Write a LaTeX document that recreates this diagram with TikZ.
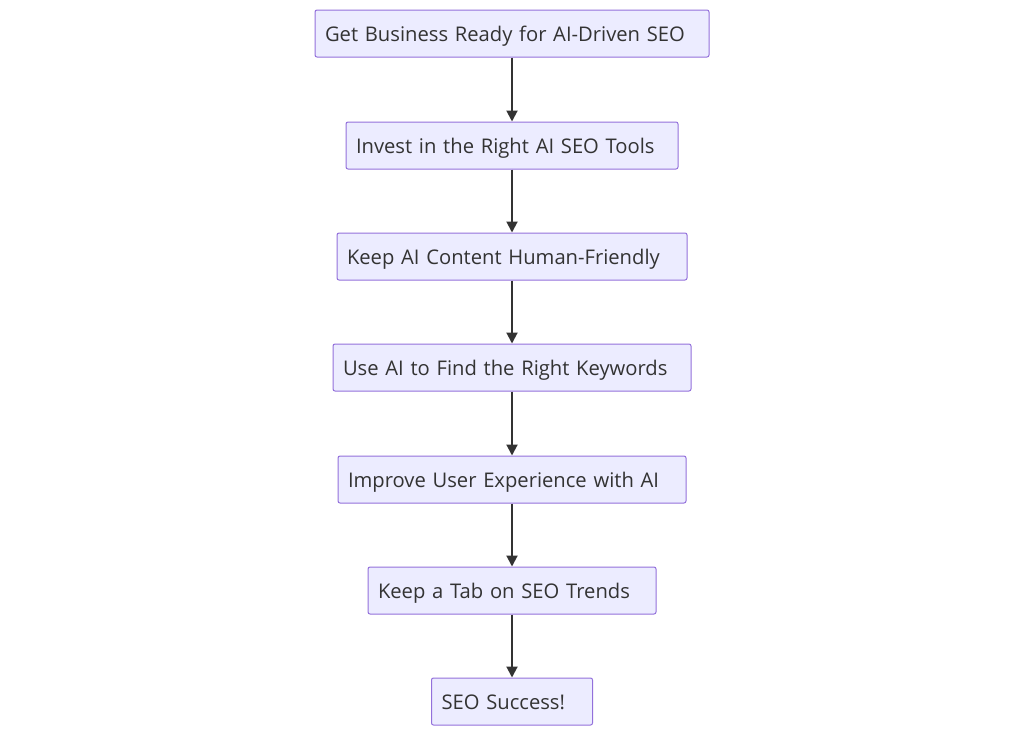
\documentclass[tikz,border=0pt]{standalone}
\usepackage{fontspec}
\setmainfont{Open Sans}
\usetikzlibrary{arrows.meta}
\definecolor{boxfill}{HTML}{ECECFF}
\definecolor{boxline}{HTML}{9370DB}
\definecolor{txt}{HTML}{333333}
\begin{document}
\begin{tikzpicture}[x=1pt,y=-1pt,
  box/.style={draw=boxline,fill=boxfill,line width=1pt,rounded corners=2pt,
    minimum height=47pt,inner xsep=10pt,inner ysep=0pt,text=txt,
    text height=18pt,text depth=2pt,
    font=\fontsize{20.2}{22}\selectfont,align=left,anchor=center},
  arr/.style={draw=txt,line width=2pt,-{Triangle[length=11pt,width=11pt]}}]
\useasboundingbox (0,0) rectangle (1024,736);
\node[box,text width=374pt] (a) at (512,33.5) {Get Business Ready for AI-Driven SEO};
\node[box,text width=312pt] (b) at (512,145.5) {Invest in the Right AI SEO Tools};
\node[box,text width=330pt] (c) at (512,256.5) {Keep AI Content Human-Friendly};
\node[box,text width=338pt] (d) at (512,367.5) {Use AI to Find the Right Keywords};
\node[box,text width=328pt] (e) at (512,479.5) {Improve User Experience with AI};
\node[box,text width=268pt] (f) at (512,590.5) {Keep a Tab on SEO Trends};
\node[box,text width=141pt] (g) at (512,701.5) {SEO Success!};
\draw[arr] (a) -- (b);
\draw[arr] (b) -- (c);
\draw[arr] (c) -- (d);
\draw[arr] (d) -- (e);
\draw[arr] (e) -- (f);
\draw[arr] (f) -- (g);
\end{tikzpicture}
\end{document}
